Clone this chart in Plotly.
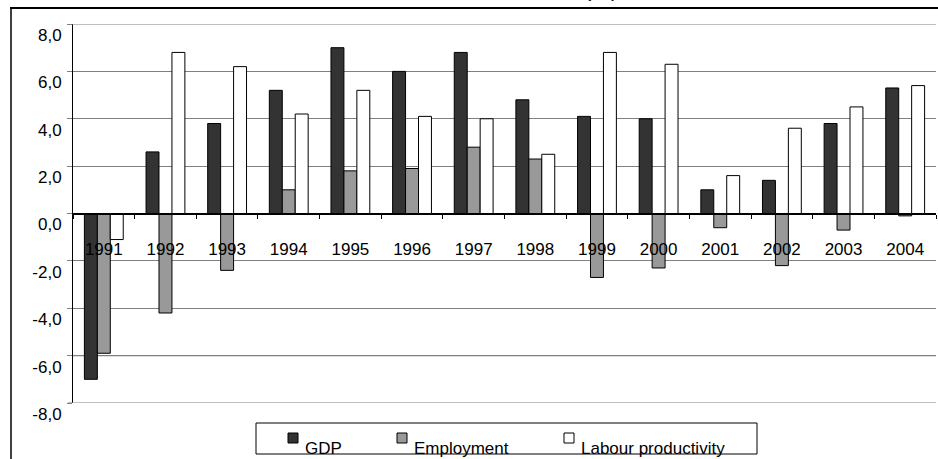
import plotly.graph_objects as go

# Annual growth rates, per cent
years = ["1991", "1992", "1993", "1994", "1995", "1996", "1997",
         "1998", "1999", "2000", "2001", "2002", "2003", "2004"]
gdp = [-7.0, 2.6, 3.8, 5.2, 7.0, 6.0, 6.8, 4.8, 4.1, 4.0, 1.0, 1.4, 3.8, 5.3]
employment = [-5.9, -4.2, -2.4, 1.0, 1.8, 1.9, 2.8, 2.3, -2.7, -2.3, -0.6, -2.2, -0.7, -0.1]
productivity = [-1.1, 6.8, 6.2, 4.2, 5.2, 4.1, 4.0, 2.5, 6.8, 6.3, 1.6, 3.6, 4.5, 5.4]

y_tick_vals = [8, 6, 4, 2, 0, -2, -4, -6, -8]
y_tick_text = ["8,0", "6,0", "4,0", "2,0", "0,0", "-2,0", "-4,0", "-6,0", "-8,0"]

FONT = "Arial, Liberation Sans, sans-serif"
W, H = 938, 459
ML, MR, MT, MB = 73, 2, 24, 56
PW, PH = W - ML - MR, H - MT - MB
Y_MIN, Y_MAX = -8, 8


def px_x(p):
    return (p - ML) / PW


def px_y(p):
    return (H - MB - p) / PH


series = [("GDP", gdp, "#333333"),
          ("Employment", employment, "#999999"),
          ("Labour productivity", productivity, "#ffffff")]

fig = go.Figure()
for name, vals, color in series:
    fig.add_trace(go.Bar(
        x=years, y=vals, name=name, showlegend=False,
        marker=dict(color=color, line=dict(color="#000000", width=1)),
    ))

shapes = [
    # gridlines along the top and bottom edges of the value range
    dict(type="line", xref="paper", yref="y", x0=px_x(68), x1=1,
         y0=Y_MAX, y1=Y_MAX, line=dict(color="#808080", width=1)),
    dict(type="line", xref="paper", yref="y", x0=px_x(68), x1=1,
         y0=Y_MIN, y1=Y_MIN, line=dict(color="#808080", width=1)),
    # black gridline at -6
    dict(type="line", xref="paper", yref="y", x0=0, x1=1, y0=-6, y1=-6,
         line=dict(color="#000000", width=1), layer="below"),
    # outer chart frame (left and top edges)
    dict(type="line", xref="paper", yref="paper",
         x0=px_x(11), x1=px_x(11), y0=px_y(8), y1=px_y(470),
         line=dict(color="#000000", width=1.5)),
    dict(type="line", xref="paper", yref="paper",
         x0=px_x(10), x1=px_x(945), y0=px_y(8), y1=px_y(8),
         line=dict(color="#000000", width=2)),
    # legend frame
    dict(type="rect", xref="paper", yref="paper",
         x0=px_x(256), x1=px_x(757), y0=px_y(423), y1=px_y(454),
         line=dict(color="#000000", width=1), fillcolor="rgba(0,0,0,0)"),
]

annotations = [dict(
    text="(%)", xref="paper", yref="paper",
    x=px_x(601), y=px_y(3), xanchor="center", yanchor="bottom",
    showarrow=False, font=dict(family=FONT, size=22, color="#000000"),
)]

# legend: key square sits a little above its label
legend_left = [288, 397, 564]
for (name, _, color), left in zip(series, legend_left):
    shapes.append(dict(
        type="rect", xref="paper", yref="paper",
        x0=px_x(left), x1=px_x(left + 10), y0=px_y(443), y1=px_y(433),
        line=dict(color="#000000", width=1), fillcolor=color,
    ))
    annotations.append(dict(
        text=name, xref="paper", yref="paper",
        x=px_x(left + 15), y=px_y(448), xanchor="left", yanchor="middle",
        showarrow=False, font=dict(family=FONT, size=17, color="#000000"),
    ))

fig.update_layout(
    width=W, height=H,
    margin=dict(l=ML, r=MR, t=MT, b=MB, pad=0),
    paper_bgcolor="#ffffff", plot_bgcolor="#ffffff",
    font=dict(family=FONT, size=17, color="#000000"),
    barmode="group", bargap=0.37, bargroupgap=0,
    showlegend=False,
    xaxis=dict(
        type="category",
        anchor="free", position=(0 - Y_MIN) / (Y_MAX - Y_MIN),
        showline=True, linecolor="#000000", linewidth=1,
        ticks="outside", tickson="boundaries", ticklen=4,
        tickcolor="#000000", showgrid=False,
        tickfont=dict(family=FONT, size=17, color="#000000"),
        ticklabelstandoff=20,
    ),
    yaxis=dict(
        range=[Y_MIN, Y_MAX],
        tickvals=y_tick_vals, ticktext=y_tick_text,
        showline=True, linecolor="#000000", linewidth=1,
        ticks="outside", ticklen=5, tickcolor="#808080",
        showgrid=True, gridcolor="#808080", gridwidth=1,
        zeroline=True, zerolinecolor="#000000", zerolinewidth=1,
        tickfont=dict(family=FONT, size=17, color="#000000"),
        ticklabelshift=11, ticklabelstandoff=2,
    ),
    shapes=shapes,
    annotations=annotations,
)

fig.write_html("out.html")
